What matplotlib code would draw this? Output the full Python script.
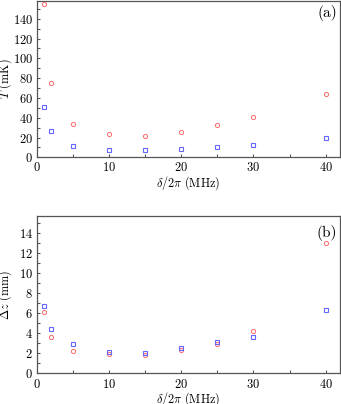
import matplotlib
matplotlib.use("Agg")
import matplotlib.pyplot as plt
from matplotlib.ticker import MultipleLocator

plt.rcParams['font.family'] = ['cmr10', 'DejaVu Serif']
plt.rcParams['mathtext.fontset'] = 'cm'
plt.rcParams['axes.formatter.use_mathtext'] = True

detuning = [1, 2, 5, 10, 15, 20, 25, 30, 40]
T_red = [155.3, 74.9, 33.9, 23.1, 21.7, 25.1, 32.2, 41.0, 63.7]
T_blue = [50.8, 26.4, 11.5, 7.5, 7.1, 8.1, 10.2, 12.9, 19.3]
dz_red = [6.15, 3.69, 2.29, 1.96, 1.80, 2.39, 2.96, 4.29, 13.0]
dz_blue = [6.75, 4.49, 2.99, 2.19, 2.09, 2.53, 3.13, 3.69, 6.29]

red = (1.0, 0.42, 0.42)
blue = (0.4, 0.4, 1.0)
frame = '#555555'

fig = plt.figure(figsize=(3.41, 4.04), dpi=100)
ax1 = fig.add_axes([0.1085, 0.6106, 0.8886, 0.387])
ax2 = fig.add_axes([0.1085, 0.0755, 0.8886, 0.3906])

def style(ax):
    for s in ax.spines.values():
        s.set_color(frame)
        s.set_linewidth(0.9)
    ax.tick_params(which='both', direction='in', length=2.5, width=0.8,
                   color=frame, labelsize=9, top=False, right=False, pad=3)
    ax.set_xlim(0, 42)
    ax.xaxis.set_major_locator(MultipleLocator(10))
    ax.xaxis.set_minor_locator(MultipleLocator(5))
    ax.set_xlabel(r'$\delta/2\pi\ \mathrm{(MHz)}$', fontsize=8.8)
    ax.xaxis.set_label_coords(0.5, -0.106)
    ax.xaxis.label.set_verticalalignment('top')
    ax.yaxis.set_label_coords(-0.076, 0.5)

for ax, r, b in ((ax1, T_red, T_blue), (ax2, dz_red, dz_blue)):
    ax.plot(detuning, r, 'o', ms=3.0, mfc='none', mec=red, mew=0.7, zorder=3)
    ax.plot(detuning, b, 's', ms=2.2, mfc='none', mec=blue, mew=0.8, zorder=4)

ax1.set_ylim(0, 158)
ax1.yaxis.set_major_locator(MultipleLocator(20))
ax1.yaxis.set_minor_locator(MultipleLocator(10))
ax1.set_ylabel(r'$T\ \mathrm{(mK)}$', fontsize=8.8)
ax1.text(0.99, 0.975, '(a)', transform=ax1.transAxes, ha='right', va='top', fontsize=11)

ax2.set_ylim(0, 15.75)
ax2.yaxis.set_major_locator(MultipleLocator(2))
ax2.yaxis.set_minor_locator(MultipleLocator(1))
ax2.set_ylabel(r'$\Delta z\ \mathrm{(mm)}$', fontsize=8.8)
ax2.text(0.99, 0.94, '(b)', transform=ax2.transAxes, ha='right', va='top', fontsize=11)

for ax in (ax1, ax2):
    style(ax)

fig.savefig('out.png', dpi=100)
